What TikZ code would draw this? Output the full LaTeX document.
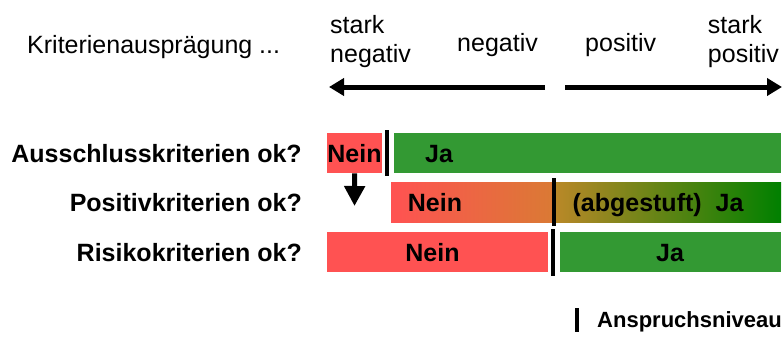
\documentclass[tikz,border=0pt]{standalone}
\usepackage{fontspec}
\setmainfont{Liberation Sans}
\usepackage{tikz}
\usetikzlibrary{arrows.meta,positioning}
\definecolor{neinRed}{RGB}{255,82,82}
\definecolor{jaGreen}{RGB}{51,153,51}
\definecolor{midOrange}{RGB}{218,122,52}
\definecolor{midOlive}{RGB}{186,136,40}
\definecolor{darkGreen}{RGB}{0,128,0}

\begin{document}
\begin{tikzpicture}[x=1pt,y=-1pt,
    txt/.style={font=\fontsize{25}{29}\selectfont, inner sep=0pt},
    btxt/.style={font=\fontsize{25}{29}\selectfont\bfseries, inner sep=0pt},
    bar/.style={draw=none, anchor=north west, inner sep=0pt, minimum height=40pt},
    cut/.style={line width=4pt, black},
    bigarrow/.style={line width=5pt, -{Triangle[length=15pt,width=17pt]}}]
    \useasboundingbox (0,0) rectangle (783,340);
    % header (base of a two-line node is its last line)
    \node[txt, anchor=base west] (kritAus) at (27,53) {Kriterienausprägung ...};
    \node[txt, anchor=base west, align=left] (starkNeg) at (330,62) {stark\\negativ};
    \node[txt, anchor=base west] (neg) at (457,51) {negativ};
    \node[txt, anchor=base west] (pos) at (585,51) {positiv};
    \node[txt, anchor=base east, align=left] (starkPos) at (779,62) {stark\\positiv};
    \coordinate (negStart) at (545,87);
    \coordinate (negEnd) at (329,87);
    \coordinate (posStart) at (565,87);
    \coordinate (posEnd) at (782,87);
    \draw[bigarrow] (negStart) -- (negEnd);
    \draw[bigarrow] (posStart) -- (posEnd);
    % row labels
    \node[btxt, anchor=base east] (ausLbl) at (302,162) {Ausschlusskriterien ok?};
    \node[btxt, anchor=base east] (posLbl) at (302,211) {Positivkriterien ok?};
    \node[btxt, anchor=base east] (risLbl) at (302,261) {Risikokriterien ok?};
    % Ausschlusskriterien
    \node[bar, fill=neinRed, minimum width=55pt] (ausNein) at (327,133) {};
    \node[bar, fill=jaGreen, minimum width=387pt] (ausJa) at (394,133) {};
    \draw[cut] (387,130) -- (387,176);
    \node[btxt, anchor=base] at (354.5,162) {Nein};
    \node[btxt, anchor=base] at (439,162) {Ja};
    \coordinate (ausDown) at (354.5,206);
    \draw[line width=5pt, -{Triangle[length=20pt,width=20pt]}] (ausNein.south) -- (ausDown);
    % Positivkriterien -- gradient in two parts, split at the bar
    \node[bar, left color=neinRed, right color=midOrange, minimum width=163pt] (posNein) at (391,182) {};
    \node[bar, left color=midOlive, right color=darkGreen, minimum width=227pt] (posJa) at (554,182) {};
    \draw[cut] (554,178) -- (554,226);
    \node[btxt, anchor=base] at (435,211) {Nein};
    \node[btxt, anchor=base] at (658,211) {(abgestuft)\ \ Ja};
    % Risikokriterien
    \node[bar, fill=neinRed, minimum width=221pt] (risNein) at (327,232) {};
    \node[bar, fill=jaGreen, minimum width=221pt] (risJa) at (560,232) {};
    \draw[cut] (553,229) -- (553,276);
    \node[btxt, anchor=base] at (432.5,261) {Nein};
    \node[btxt, anchor=base] at (670,261) {Ja};
    % legend
    \draw[cut] (577,308) -- (577,332);
    \node[font=\fontsize{22}{26}\selectfont\bfseries, inner sep=0pt, anchor=base west] (anspruch) at (597,327) {Anspruchsniveau};
\end{tikzpicture}
\end{document}
